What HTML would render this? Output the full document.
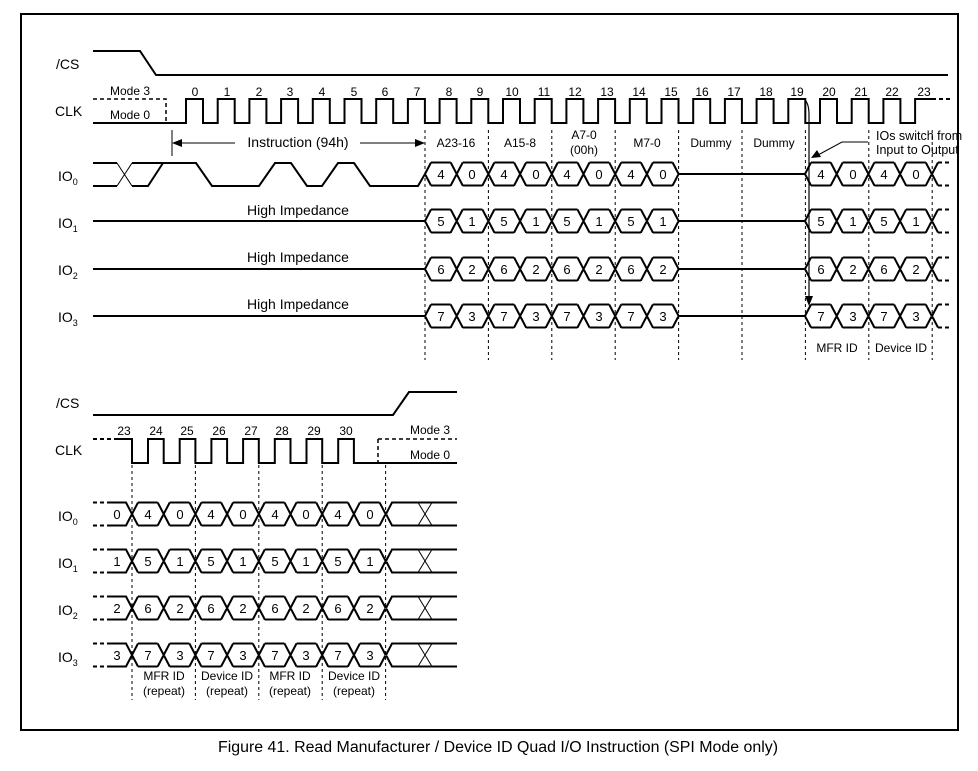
<!DOCTYPE html>
<html><head><meta charset="utf-8"><style>
html,body{margin:0;padding:0;background:#fff}
svg{display:block}
text{font-family:"Liberation Sans",Arial,sans-serif;fill:#000}
</style></head><body>
<svg id="s" width="978" height="771" viewBox="0 0 978 771" xmlns="http://www.w3.org/2000/svg">
<rect x="21" y="14" width="937" height="716" fill="none" stroke="#000" stroke-width="2"/>
<text x="218" y="752" font-size="15.5" textLength="560" lengthAdjust="spacingAndGlyphs">Figure 41. Read Manufacturer / Device ID Quad I/O Instruction (SPI Mode only)</text>
<g font-size="14">
<text x="56" y="69">/CS</text><text x="55" y="116">CLK</text>
<text x="58" y="181">IO<tspan font-size="9" dy="4">0</tspan></text>
<text x="58" y="228">IO<tspan font-size="9" dy="4">1</tspan></text>
<text x="58" y="275">IO<tspan font-size="9" dy="4">2</tspan></text>
<text x="58" y="322">IO<tspan font-size="9" dy="4">3</tspan></text>
<text x="56" y="408">/CS</text><text x="55" y="455">CLK</text>
<text x="58" y="521">IO<tspan font-size="9" dy="4">0</tspan></text>
<text x="58" y="568">IO<tspan font-size="9" dy="4">1</tspan></text>
<text x="58" y="615">IO<tspan font-size="9" dy="4">2</tspan></text>
<text x="58" y="662">IO<tspan font-size="9" dy="4">3</tspan></text>
</g>
<g font-size="12" text-anchor="middle">
<text x="130" y="95">Mode 3</text><text x="130" y="119">Mode 0</text>
<text x="430" y="434">Mode 3</text><text x="430" y="459">Mode 0</text>
<text x="195" y="96">0</text><text x="227" y="96">1</text><text x="259" y="96">2</text><text x="290" y="96">3</text><text x="322" y="96">4</text><text x="354" y="96">5</text><text x="385" y="96">6</text><text x="417" y="96">7</text><text x="449" y="96">8</text><text x="480" y="96">9</text><text x="512" y="96">10</text><text x="544" y="96">11</text><text x="575" y="96">12</text><text x="607" y="96">13</text><text x="639" y="96">14</text><text x="671" y="96">15</text><text x="702" y="96">16</text><text x="734" y="96">17</text><text x="766" y="96">18</text><text x="797" y="96">19</text><text x="829" y="96">20</text><text x="861" y="96">21</text><text x="892" y="96">22</text><text x="924" y="96">23</text>
<text x="124" y="435">23</text><text x="156" y="435">24</text><text x="187" y="435">25</text><text x="219" y="435">26</text><text x="251" y="435">27</text><text x="282" y="435">28</text><text x="314" y="435">29</text><text x="346" y="435">30</text>
<text x="456" y="147">A23-16</text><text x="520" y="147">A15-8</text><text x="584" y="139">A7-0</text><text x="584" y="154">(00h)</text><text x="647" y="147">M7-0</text><text x="711" y="147">Dummy</text><text x="774" y="147">Dummy</text>
<text x="837" y="352">MFR ID</text><text x="901" y="352">Device ID</text>
<text x="164" y="680">MFR ID</text><text x="164" y="695">(repeat)</text>
<text x="227" y="680">Device ID</text><text x="227" y="695">(repeat)</text>
<text x="290" y="680">MFR ID</text><text x="290" y="695">(repeat)</text>
<text x="354" y="680">Device ID</text><text x="354" y="695">(repeat)</text>
</g>
<g font-size="12.5">
<text x="876" y="140">IOs switch from</text><text x="876" y="154">Input to Output</text>
</g>
<g font-size="14" text-anchor="middle">
<text x="298" y="147">Instruction (94h)</text>
<text x="298" y="215">High Impedance</text><text x="298" y="262">High Impedance</text><text x="298" y="309">High Impedance</text>
</g>
<g id="d" font-size="13" text-anchor="middle">
<text x="441" y="179">4</text><text x="472" y="179">0</text><text x="504" y="179">4</text><text x="536" y="179">0</text><text x="567" y="179">4</text><text x="599" y="179">0</text><text x="631" y="179">4</text><text x="663" y="179">0</text><text x="821" y="179">4</text><text x="853" y="179">0</text><text x="884" y="179">4</text><text x="916" y="179">0</text>
<text x="441" y="226">5</text><text x="472" y="226">1</text><text x="504" y="226">5</text><text x="536" y="226">1</text><text x="567" y="226">5</text><text x="599" y="226">1</text><text x="631" y="226">5</text><text x="663" y="226">1</text><text x="821" y="226">5</text><text x="853" y="226">1</text><text x="884" y="226">5</text><text x="916" y="226">1</text>
<text x="441" y="274">6</text><text x="472" y="274">2</text><text x="504" y="274">6</text><text x="536" y="274">2</text><text x="567" y="274">6</text><text x="599" y="274">2</text><text x="631" y="274">6</text><text x="663" y="274">2</text><text x="821" y="274">6</text><text x="853" y="274">2</text><text x="884" y="274">6</text><text x="916" y="274">2</text>
<text x="441" y="321">7</text><text x="472" y="321">3</text><text x="504" y="321">7</text><text x="536" y="321">3</text><text x="567" y="321">7</text><text x="599" y="321">3</text><text x="631" y="321">7</text><text x="663" y="321">3</text><text x="821" y="321">7</text><text x="853" y="321">3</text><text x="884" y="321">7</text><text x="916" y="321">3</text>
<text x="117" y="519">0</text><text x="148" y="519">4</text><text x="180" y="519">0</text><text x="211" y="519">4</text><text x="243" y="519">0</text><text x="275" y="519">4</text><text x="306" y="519">0</text><text x="338" y="519">4</text><text x="370" y="519">0</text>
<text x="117" y="566">1</text><text x="148" y="566">5</text><text x="180" y="566">1</text><text x="211" y="566">5</text><text x="243" y="566">1</text><text x="275" y="566">5</text><text x="306" y="566">1</text><text x="338" y="566">5</text><text x="370" y="566">1</text>
<text x="117" y="613">2</text><text x="148" y="613">6</text><text x="180" y="613">2</text><text x="211" y="613">6</text><text x="243" y="613">2</text><text x="275" y="613">6</text><text x="306" y="613">2</text><text x="338" y="613">6</text><text x="370" y="613">2</text>
<text x="117" y="660">3</text><text x="148" y="660">7</text><text x="180" y="660">3</text><text x="211" y="660">7</text><text x="243" y="660">3</text><text x="275" y="660">7</text><text x="306" y="660">3</text><text x="338" y="660">7</text><text x="370" y="660">3</text>
</g>
<g id="g" fill="none" stroke="#000"></g>
</svg>
<script>
var g=document.getElementById('g'),NS='http://www.w3.org/2000/svg';
function P(d,w,dash){var p=document.createElementNS(NS,'path');p.setAttribute('d',d);p.setAttribute('stroke-width',w||2);if(dash)p.setAttribute('stroke-dasharray',dash);g.appendChild(p);}
var T=31.7;
P('M93 51H140L156 75H948');
P('M93 415H393L409 392H457');
var d='M93 123H186';for(var k=0;k<24;k++){var r=186+T*k;d+='V99H'+(r+17);if(k<23)d+='V123H'+(r+T);}
P(d);P('M932 99H950',2,'4 3');P('M93 99H166V123',1.5,'4 3');
d='M117 439H132';for(var k=0;k<8;k++){var f=132+T*k;d+='V463H'+(f+16);if(k<7)d+='V439H'+(f+T);}
d+='V463H457';P(d);P('M93 439H117',2,'4 3');P('M378 439H457M378 439V463',1.5,'4 3');
for(var k=0;k<9;k++){var x=425+2*T*k;P('M'+x+' 130V360',1,'3 3');}
for(var k=0;k<5;k++){var x=132+2*T*k;P('M'+x+' 465V700',1,'3 3');}
P('M172 130V156',1);P('M178 143H235M360 143H418',1);
var a=document.createElementNS(NS,'path');a.setAttribute('d','M172 143l10-4v8zM425 143l-10-4v8z');a.setAttribute('fill','#000');g.appendChild(a);a.setAttribute('stroke','none');
P('M93 163H117M93 186H117M132 163H196L212 186H259L275 163H291L307 186H322L338 163H354L370 186H418L425 174M132 186H148L163 163',2);
P('M117 163L132 186M117 186L132 163',1);
function bus(cy,bs,h,dd){var s='';for(var i=0;i<bs.length;i++){var b=bs[i];
 if(i<bs.length-1){s+='M'+(b+dd)+' '+(cy-h)+'H'+(bs[i+1]-dd)+'M'+(b+dd)+' '+(cy+h)+'H'+(bs[i+1]-dd);}
 var first=i==0,last=i==bs.length-1;
 if(!first)s+='M'+(b-dd)+' '+(cy-h)+'L'+b+' '+cy+'M'+(b-dd)+' '+(cy+h)+'L'+b+' '+cy;
 if(!last)s+='M'+b+' '+cy+'L'+(b+dd)+' '+(cy-h)+'M'+b+' '+cy+'L'+(b+dd)+' '+(cy+h);}
 return s;}
var ys=[174,221,269,316];
for(var j=0;j<4;j++){var cy=ys[j];var b1=[],b2=[];for(var i=0;i<9;i++)b1.push(425+T*i);for(var i=0;i<5;i++)b2.push(805+T*i);
 var s=bus(cy,b1,11.5,6)+bus(cy,b2,11.5,6)+'M'+(425+8*T)+' '+cy+'H805';
 if(j>0)s+='M93 '+cy+'H425';
 s+='M932 '+cy+'L938 '+(cy-11.5)+'M932 '+cy+'L938 '+(cy+11.5);
 P(s);P('M938 '+(cy-11.5)+'H952M938 '+(cy+11.5)+'H952',2,'4 3');}
var yb=[514,561,608,655];
for(var j=0;j<4;j++){var cy=yb[j];var b=[];for(var i=0;i<9;i++)b.push(132+T*i);
 var s=bus(cy,b,11.5,6);
 s+='M108 '+(cy-11.5)+'H126L132 '+cy+'M108 '+(cy+11.5)+'H126L132 '+cy;
 s+='M386 '+cy+'L392 '+(cy-11.5)+'H457M386 '+cy+'L392 '+(cy+11.5)+'H457';
 P(s);P('M93 '+(cy-11.5)+'H108M93 '+(cy+11.5)+'H108',2,'4 3');
 P('M418 '+(cy-11.5)+'L432 '+(cy+11.5)+'M418 '+(cy+11.5)+'L432 '+(cy-11.5),1);}
P('M805 100Q809 104 809 115V298',1.2);
P('M868 142H842L818 155',1);
var b2=document.createElementNS(NS,'path');b2.setAttribute('d','M809 306l-4-10h8zM811 158l6-8l4 7z');b2.setAttribute('fill','#000');b2.setAttribute('stroke','none');g.appendChild(b2);
</script>
</body></html>
